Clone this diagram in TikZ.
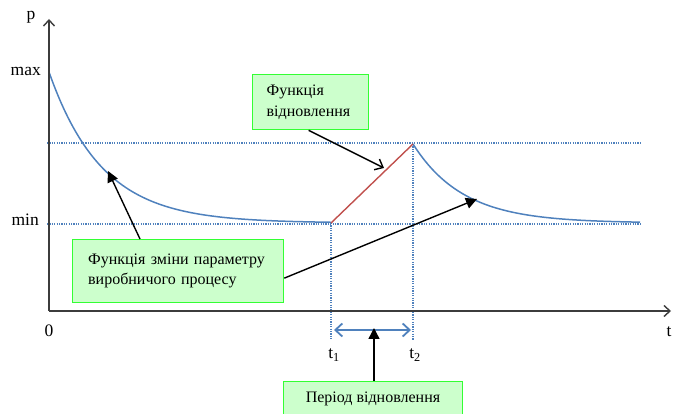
\documentclass[tikz,border=0pt]{standalone}
\usepackage{fontspec}
\setmainfont{Liberation Serif}
\usetikzlibrary{arrows.meta}
\definecolor{curveblue}{RGB}{79,129,189}
\definecolor{redline}{RGB}{192,80,77}
\definecolor{boxfill}{RGB}{204,255,204}
\definecolor{boxdraw}{RGB}{51,255,51}
\definecolor{axisgray}{RGB}{60,60,60}
\begin{document}
\begin{tikzpicture}[x=1pt,y=-1pt,
  axisline/.style={draw=axisgray,line width=1.4pt,-{Straight Barb[length=6pt,width=11pt]}},
  curveline/.style={draw=curveblue,line width=1.5pt},
  guide/.style={draw=curveblue,line width=1.1pt,dash pattern=on 1.2pt off 1.2pt},
  callout/.style={draw=black,line width=1.4pt},
  solidtip/.style={callout,-{Triangle[length=11pt,width=11pt]}},
  opentip/.style={callout,-{Straight Barb[length=7pt,width=12pt]}},
  greenbox/.style={draw=boxdraw,fill=boxfill,line width=1.3pt,anchor=north west,inner sep=0pt,font=\fontsize{16}{20.5}\selectfont},
  lbl/.style={font=\fontsize{17.5}{19}\selectfont,inner sep=0pt}]
\useasboundingbox (0,0) rectangle (673,414);
% coordinates
\coordinate (origin) at (49,311);
\coordinate (ytop) at (49,19);
\coordinate (xend) at (671,311);
\coordinate (t1top) at (331,223);
\coordinate (t1bot) at (331,340);
\coordinate (t2top) at (413,144);
\coordinate (t2bot) at (413,340);
% guide lines
\draw[guide] (47,143) -- (640,143);
\draw[guide] (47,224) -- (640,224);
\draw[guide] (t1top) -- (t1bot);
\draw[guide] (t2top) -- (t2bot);
% curves
\draw[curveline] plot[domain=49:331,samples=120] (\x,{223-151*exp(-(\x-49)/53)});
\draw[curveline] plot[domain=413:640,samples=100] (\x,{223-79*exp(-(\x-413)/50)});
\draw[draw=redline,line width=1.4pt] (t1top) -- (t2top);
% axes
\draw[axisline] (origin) -- (ytop);
\draw[axisline] (origin) -- (xend);
% labels
\node[lbl] (p) at (31,17) {p};
\node[lbl,anchor=east] (max) at (41,71) {max};
\node[lbl,anchor=east] (min) at (39,220) {min};
\node[lbl] (zero) at (49,331) {0};
\node[lbl] (t) at (669,332) {t};
\node[lbl] (t1) at (334,355) {t\textsubscript{1}};
\node[lbl] (t2) at (415,355) {t\textsubscript{2}};
% period double arrow
\coordinate (pl) at (334,330);
\coordinate (pr) at (411,330);
\draw[draw=curveblue,line width=1.8pt,{Straight Barb[length=7pt,width=13pt]}-{Straight Barb[length=7pt,width=13pt]}] (pl) -- (pr);
% boxes
\node[greenbox,minimum width=116pt,minimum height=55pt,text width=106pt,align=left] (b1) at (252,74) {\hspace*{9pt}Функція\\\hspace*{9pt}відновлення};
\node[greenbox,minimum width=211pt,minimum height=63pt,text width=196pt,align=left] (b2) at (72,239) {\hspace*{8pt}Функція зміни параметру\\\hspace*{8pt}виробничого процесу\\[6pt]};
\node[greenbox,minimum width=179pt,minimum height=50pt,align=center,anchor=north] (b3) at (373,381) {\raisebox{18pt}{Період відновлення}};
% callouts
\coordinate (a1tip) at (384,168);
\coordinate (a2tip) at (108,171);
\coordinate (a3tip) at (477,199);
\coordinate (a4tip) at (374,328);
\draw[opentip] ([xshift=-2pt]b1.south) -- (a1tip);
\draw[solidtip] ([xshift=68pt]b2.north west) -- (a2tip);
\draw[solidtip] ([yshift=-7pt]b2.east) -- (a3tip);
\draw[solidtip] ([xshift=1pt]b3.north) -- (a4tip);
\end{tikzpicture}
\end{document}
